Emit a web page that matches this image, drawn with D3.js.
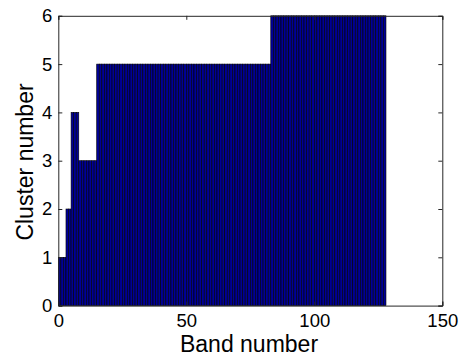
<!DOCTYPE html>
<html><head><meta charset="utf-8">
<script src="https://cdn.jsdelivr.net/npm/d3@7"></script>
<style>body{margin:0;background:#fff}svg{display:block}text{font-family:"Liberation Sans",Arial,sans-serif;fill:#000}</style>
</head><body><svg id="c" width="460" height="356"></svg>
<script>
// Cluster index for each band (bands 1..128)
const bands = d3.range(1, 129);
const clusterRuns = [[1,3],[2,2],[4,3],[3,7],[5,68],[6,45]]; // [cluster, count]
const clusters = clusterRuns.flatMap(([c,n]) => Array(n).fill(c));
const xTicks = [0, 50, 100, 150];
const yTicks = [0, 1, 2, 3, 4, 5, 6];

const svg = d3.select("#c");
const L = 58.3, R = 442.3, T = 15.8, B = 305.6;
const x = d3.scaleLinear().domain([0,150]).range([L,R]);
const y = d3.scaleLinear().domain([0,6]).range([B,T]);

svg.append("g").selectAll("rect").data(bands).join("rect")
  .attr("x", d => x(d-1))
  .attr("width", d => x(d) - x(d-1))
  .attr("y", (d,i) => y(clusters[i]))
  .attr("height", (d,i) => y(0) - y(clusters[i]))
  .attr("fill", "#000096")
  .attr("stroke", "#000")
  .attr("stroke-width", 0.6);

const tl = 4;
const gx = svg.append("g").attr("transform", `translate(0,${B})`)
  .call(d3.axisBottom(x).tickValues(xTicks).tickSize(-tl).tickPadding(8).tickFormat(d3.format("d")));
const gxt = svg.append("g").attr("transform", `translate(0,${T})`)
  .call(d3.axisTop(x).tickValues(xTicks).tickSize(-tl).tickFormat(""));
const gy = svg.append("g").attr("transform", `translate(${L},0)`)
  .call(d3.axisLeft(y).tickValues(yTicks).tickSize(-tl).tickPadding(6).tickFormat(d3.format("d")));
const gyr = svg.append("g").attr("transform", `translate(${R},0)`)
  .call(d3.axisRight(y).tickValues(yTicks).tickSize(-tl).tickFormat(""));
[gx,gxt,gy,gyr].forEach(g => {
  g.select(".domain").attr("stroke", "#262626").attr("stroke-width", 1);
  g.selectAll(".tick line").attr("stroke", "#262626");
  g.selectAll("text").style("font-size", "18.5px").attr("fill", "#000");
});
gx.selectAll("text").attr("dy", "0.71em");

svg.append("text").attr("x", 249).attr("y", 352)
  .attr("text-anchor", "middle").style("font-size", "23px").text("Band number");
svg.append("text").attr("transform", `translate(33,162) rotate(-90)`)
  .attr("text-anchor", "middle").style("font-size", "23px").text("Cluster number");
</script></body></html>
